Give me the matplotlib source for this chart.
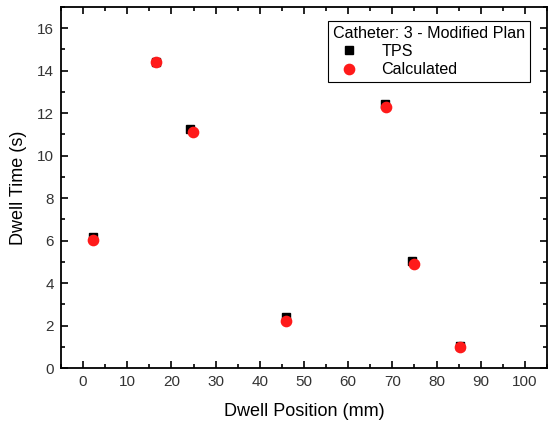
"""Dwell times per dwell position for catheter 3: TPS vs calculated."""

import matplotlib

matplotlib.use("Agg")

import matplotlib.pyplot as plt  # noqa: E402
from matplotlib.ticker import MultipleLocator  # noqa: E402

plt.rcParams["font.family"] = ["Liberation Sans", "DejaVu Sans"]

# values
tps_pos = [2.2, 16.6, 24.2, 46.0, 68.3, 74.5, 85.4]
tps_time = [6.15, 14.42, 11.27, 2.40, 12.44, 5.05, 1.02]
calc_pos = [2.2, 16.6, 24.8, 46.0, 68.6, 74.9, 85.4]
calc_time = [6.05, 14.42, 11.12, 2.22, 12.31, 4.88, 0.99]

fig = plt.figure(figsize=(5.48, 4.24), dpi=100)
ax = fig.add_axes([61 / 548, 1 - 368 / 424, 486 / 548, 361 / 424])

ax.plot(tps_pos, tps_time, "s", color="black", markersize=5.6, label="TPS")
ax.plot(calc_pos, calc_time, "o", color="#ff1a1a", markersize=7.4, label="Calculated")

ax.set_xlim(-5, 105)
ax.set_ylim(0, 17)
ax.xaxis.set_major_locator(MultipleLocator(10))
ax.xaxis.set_minor_locator(MultipleLocator(5))
ax.yaxis.set_major_locator(MultipleLocator(2))
ax.yaxis.set_minor_locator(MultipleLocator(1))
ax.tick_params(which="both", direction="in", top=True, right=True, width=1.2,
               labelsize=11, labelcolor="#333333")
ax.tick_params(which="major", length=5, pad=5)
ax.tick_params(which="minor", length=3)
for s in ax.spines.values():
    s.set_linewidth(1.3)

ax.set_xlabel("Dwell Position (mm)", fontsize=13, labelpad=10)
ax.set_ylabel("Dwell Time (s)", fontsize=13, labelpad=7)

leg = ax.legend(title="Catheter: 3 - Modified Plan", loc="upper right",
                bbox_to_anchor=(0.965, 0.961), borderaxespad=0,
                fontsize=11.6, title_fontsize=11.6,
                fancybox=False, edgecolor="black", framealpha=1,
                borderpad=0.3, handletextpad=1.0, labelspacing=0.2)
leg.get_frame().set_linewidth(0.8)
leg._legend_box.align = "left"

fig.savefig("out.png", dpi=100)
